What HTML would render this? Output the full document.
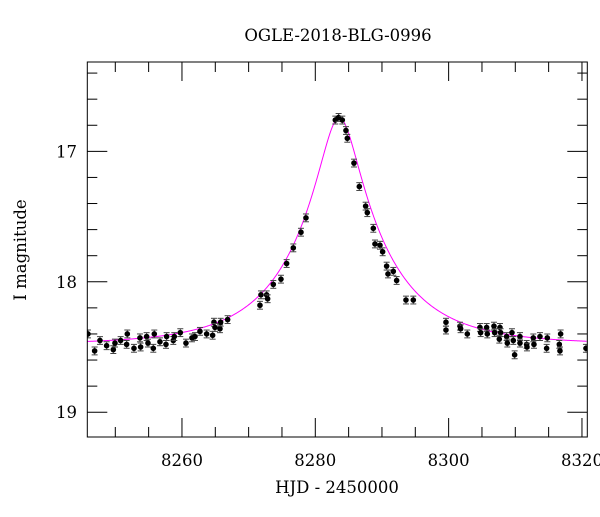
<!DOCTYPE html>
<html><head><meta charset="utf-8"><style>
body{margin:0;background:#fff}
svg text{font-family:"DejaVu Serif","Liberation Serif",serif;fill:#000}
</style></head><body>
<svg id="c" width="600" height="512" xmlns="http://www.w3.org/2000/svg">
<defs><clipPath id="pc"><rect x="87.3" y="62" width="500" height="375"/></clipPath></defs>
<text x="338" y="41" text-anchor="middle" font-size="16.5">OGLE-2018-BLG-0996</text>
<text x="337" y="493" text-anchor="middle" font-size="16.5">HJD - 2450000</text>
<text transform="translate(26,250) rotate(-90)" text-anchor="middle" font-size="16.5">I magnitude</text>
<g id="ticks"></g><g clip-path="url(#pc)"><g id="model"></g><g id="pts"></g></g>
<rect x="87.3" y="62" width="500" height="375" fill="none" stroke="#000" stroke-width="1"/>
</svg>
<script>
const days=[8245.9,8246.9,8247.7,8248.7,8249.7,8249.95,8250.8,8251.7,8251.8,8252.8,8253.7,8253.8,8254.7,8254.9,8255.7,8255.85,8256.7,8257.6,8257.7,8258.7,8258.85,8259.75,8260.6,8261.5,8261.95,8262.7,8263.7,8264.6,8264.8,8264.95,8265.7,8265.8,8266.85,8271.7,8271.85,8272.7,8272.85,8273.7,8274.85,8275.7,8276.7,8277.85,8278.6,8283.0,8283.5,8284.05,8284.6,8284.8,8285.8,8286.6,8287.55,8287.8,8288.7,8288.95,8289.7,8290.1,8290.7,8290.9,8291.7,8292.2,8293.6,8294.7,8299.6,8299.6,8301.7,8301.8,8302.8,8304.7,8304.8,8305.7,8305.8,8306.8,8306.9,8307.7,8307.8,8307.6,8308.7,8308.8,8309.5,8309.7,8309.9,8310.7,8310.7,8311.7,8311.75,8312.7,8312.8,8313.7,8314.8,8314.7,8316.6,8316.7,8316.8,8320.6];
const mags=[18.40,18.53,18.45,18.49,18.52,18.47,18.45,18.48,18.40,18.51,18.43,18.50,18.42,18.47,18.51,18.40,18.46,18.48,18.42,18.45,18.42,18.39,18.47,18.43,18.42,18.38,18.40,18.41,18.31,18.35,18.36,18.31,18.29,18.18,18.10,18.10,18.13,18.02,17.98,17.86,17.74,17.62,17.51,16.76,16.74,16.76,16.84,16.90,17.09,17.27,17.42,17.47,17.59,17.71,17.72,17.77,17.88,17.94,17.92,17.99,18.14,18.14,18.31,18.37,18.34,18.36,18.40,18.35,18.39,18.35,18.40,18.34,18.39,18.35,18.39,18.44,18.42,18.47,18.39,18.45,18.56,18.42,18.47,18.48,18.50,18.43,18.48,18.42,18.43,18.51,18.48,18.53,18.40,18.51];
const errs=days.map(()=>0.03);
const t0=8283.6, tE=13.5, u0=0.205, base=18.48;
const xTicks=[8260,8280,8300,8320];
const yTicks=[17,18,19];
const X0=87.3,X1=587.3,Y0=62,Y1=437,xmin=8245.8,xmax=8320.8,ymin=16.315,ymax=19.19;
const sx=d=>X0+(d-xmin)/(xmax-xmin)*(X1-X0);
const sy=m=>Y0+(m-ymin)/(ymax-ymin)*(Y1-Y0);
const NS="http://www.w3.org/2000/svg";
function mk(t,a,p){const e=document.createElementNS(NS,t);for(const k in a)e.setAttribute(k,a[k]);p.appendChild(e);return e;}
const tg=document.getElementById('ticks');
for(let d=8250;d<=8320;d+=5){const maj=d%20===0;const L=maj?19:10;const x=sx(d);
 const l1=mk('line',{x1:x,x2:x,y1:Y1,y2:Y1-L,stroke:'#000'},tg);
 
 
 const l2=mk('line',{x1:x,x2:x,y1:Y0,y2:Y0+L,stroke:'#000'},tg);
 
 }
xTicks.forEach(d=>{const t=mk('text',{x:sx(d),y:466,'text-anchor':'middle','font-size':16.5},tg);t.textContent=d;
 
 });
for(let i=0;i<=14;i++){const m=16.4+i*0.2;if(m>ymax)break;const maj=Math.abs(m-Math.round(m))<1e-6;const L=maj?20:10;const y=sy(m);
 const a=mk('line',{x1:X0,x2:X0+L,y1:y,y2:y,stroke:'#000'},tg);
 
 
 const b=mk('line',{x1:X1,x2:X1-L,y1:y,y2:y,stroke:'#000'},tg);
 
 }
yTicks.forEach(m=>{const t=mk('text',{x:77,y:sy(m)+6,'text-anchor':'end','font-size':16.5},tg);t.textContent=m;
 
 });
let pts=[];for(let d=xmin;d<=xmax;d+=0.1){const tau=(d-t0)/tE;const u=Math.sqrt(tau*tau+u0*u0);const A=(u*u+2)/(u*Math.sqrt(u*u+4));pts.push(sx(d).toFixed(2)+','+sy(base-2.5*Math.log10(A)).toFixed(2));}
const pl=mk('polyline',{points:pts.join(' '),fill:'none',stroke:'#ff00ff','stroke-width':1},document.getElementById('model'));


const pg=document.getElementById('pts');
days.forEach((d,i)=>{const x=sx(d),y=sy(mags[i]),e=errs[i];
 const g=mk('g',{},pg);
 
 
 mk('line',{x1:x,x2:x,y1:sy(mags[i]-e),y2:sy(mags[i]+e),stroke:'#444'},g);
 mk('line',{x1:x-3,x2:x+3,y1:sy(mags[i]-e),y2:sy(mags[i]-e),stroke:'#444'},g);
 mk('line',{x1:x-3,x2:x+3,y1:sy(mags[i]+e),y2:sy(mags[i]+e),stroke:'#444'},g);
 mk('circle',{cx:x,cy:y,r:2.8,fill:'#000'},g);});
</script>
</body></html>
